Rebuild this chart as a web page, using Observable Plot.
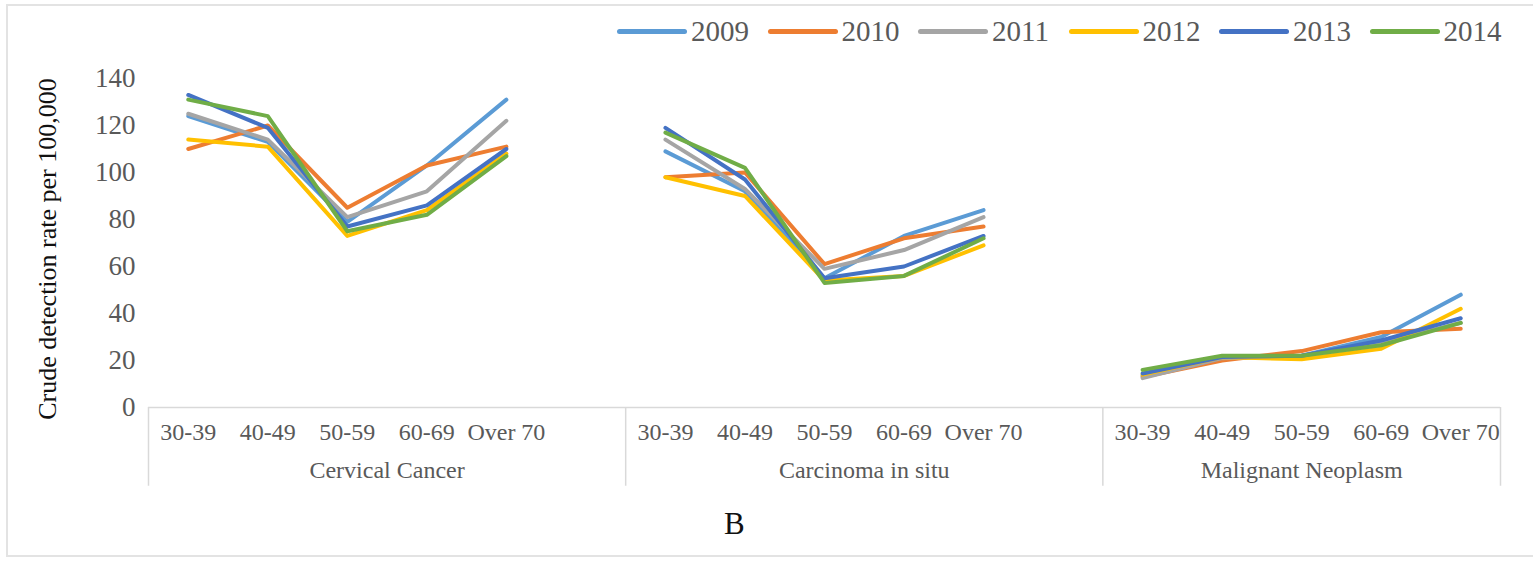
<!DOCTYPE html>
<html>
<head>
<meta charset="utf-8">
<script src="https://cdn.jsdelivr.net/npm/d3@7"></script>
<script src="https://cdn.jsdelivr.net/npm/@observablehq/plot@0.6"></script>
<style>
  html, body { margin: 0; padding: 0; background: #fff; }
  #wrap { position: relative; width: 1533px; height: 561px; overflow: hidden; font-family: "Liberation Serif", serif; }
  #frame { position: absolute; left: 6px; top: 4px; width: 1560px; height: 553px; border: 2px solid #e3e3e3; box-sizing: border-box; }
  #chart { position: absolute; left: 0; top: 0; }
  #chart text { font-family: "Liberation Serif", serif; }
  #legend { position: absolute; top: 16px; left: 0; width: 1533px; height: 30px; }
  .item { position: absolute; top: 0; height: 30px; display: flex; align-items: center; }
  .sw { width: 70px; height: 5px; border-radius: 3px; margin-right: 4px; }
  .lt { font-family: "Liberation Serif", serif; font-size: 29px; color: #595959; line-height: 30px; }
  #letter { position: absolute; left: 724px; top: 506px; font-size: 31px; color: #111; }
</style>
</head>
<body>
<div id="wrap">
  <div id="frame"></div>
  <div id="chart"></div>
  <div id="legend"></div>
  <div id="letter">B</div>
</div>
<script>
const categories = ["30-39", "40-49", "50-59", "60-69", "Over 70"];
const groups = ["Cervical Cancer", "Carcinoma in situ", "Malignant Neoplasm"];
const years = ["2009", "2010", "2011", "2012", "2013", "2014"];
const colors = ["#5B9BD5", "#ED7D31", "#A5A5A5", "#FFC000", "#4472C4", "#70AD47"];
const yTicks = [0, 20, 40, 60, 80, 100, 120, 140];

// values per year: Cervical Cancer (5), Carcinoma in situ (5), Malignant Neoplasm (5)
const v2009 = [124, 113, 79, 103, 131,   109, 92, 55, 73, 84,   13.5, 21, 22, 30, 48];
const v2010 = [110, 120, 85, 103, 111,   98, 100, 61, 72, 77,   13, 20, 24, 32, 33.5];
const v2011 = [125, 114, 81, 92, 122,    114, 93, 59, 67, 81,   12.5, 21, 22, 27.5, 36];
const v2012 = [114, 111, 73, 84, 108,    98, 90, 54, 56, 69,    14, 21.5, 20.5, 25, 42];
const v2013 = [133, 119, 77, 86, 110,    119, 97, 55, 60, 73,   14.5, 21.5, 22, 28.5, 38];
const v2014 = [131, 124, 75, 82, 107,    117, 102, 53, 56, 72,  16, 22, 22, 26.5, 36];
const series = [v2009, v2010, v2011, v2012, v2013, v2014];

const slotsPerGroup = [6, 6, 5];
const groupStart = d3.cumsum([0, ...slotsPerGroup]).slice(0, groups.length);
const totalSlots = d3.sum(slotsPerGroup);

const rows = [];
years.forEach((yr, k) => {
  groups.forEach((g, gi) => {
    categories.forEach((c, ci) => {
      rows.push({year: yr, group: g, cat: c, pos: groupStart[gi] + ci, value: series[k][gi * categories.length + ci]});
    });
  });
});

const catRows = [];
groups.forEach((g, gi) => categories.forEach((c, ci) => catRows.push({cat: c, pos: groupStart[gi] + ci})));
const groupRows = groups.map((g, gi) => ({group: g, center: groupStart[gi] - 0.5 + slotsPerGroup[gi] / 2}));
const boundaries = [...groupStart.map(s => s - 0.5), totalSlots - 0.5];

const serif = "Liberation Serif, serif";
const plot = Plot.plot({
  width: 1533,
  height: 561,
  marginLeft: 148,
  marginRight: 33,
  marginTop: 78,
  marginBottom: 154,
  style: {fontFamily: serif, background: "transparent", overflow: "visible"},
  x: {type: "linear", domain: [-0.5, totalSlots - 0.5], axis: null},
  y: {domain: [0, 140], axis: null},
  color: {domain: years, range: colors},
  marks: [
    Plot.axisY({ticks: yTicks, tickSize: 0, tickPadding: 13, fontSize: 27, fontFamily: serif, fill: "#595959", label: null}),
    Plot.text(["Crude detection rate per 100,000"], {frameAnchor: "left", textAnchor: "middle", rotate: -90, dx: -101, dy: 6, fontSize: 26, fontFamily: serif, fill: "#111"}),
    Plot.ruleY([0], {stroke: "#d9d9d9", strokeWidth: 1.5}),
    Plot.ruleX(boundaries, {y1: 0, y2: -33.5, stroke: "#d9d9d9", strokeWidth: 1.5}),
    Plot.text(catRows, {x: "pos", y: 0, text: "cat", dy: 25, fontSize: 24, fontFamily: serif, fill: "#595959"}),
    Plot.text(groupRows, {x: "center", y: 0, text: "group", dy: 63, fontSize: 24, fontFamily: serif, fill: "#595959"}),
    Plot.line(rows, {x: "pos", y: "value", z: d => d.year + "|" + d.group, stroke: "year", strokeWidth: 4, strokeLinejoin: "round", strokeLinecap: "round"})
  ]
});
document.getElementById("chart").appendChild(plot);

const legend = document.getElementById("legend");
const legendLeft = 617, legendStep = 150.5;
years.forEach((yr, k) => {
  const it = document.createElement("div");
  it.className = "item";
  it.style.left = (legendLeft + k * legendStep) + "px";
  const sw = document.createElement("div");
  sw.className = "sw";
  sw.style.background = colors[k];
  const t = document.createElement("span");
  t.className = "lt";
  t.textContent = yr;
  it.appendChild(sw); it.appendChild(t);
  legend.appendChild(it);
});
</script>
</body>
</html>
